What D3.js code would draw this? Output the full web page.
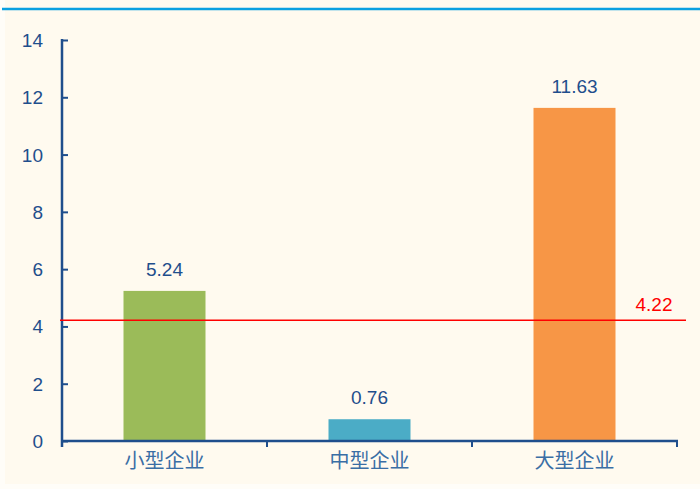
<!DOCTYPE html>
<html>
<head>
<meta charset="utf-8">
<script src="https://cdn.jsdelivr.net/npm/d3@7"></script>
<style>
  html, body { margin: 0; padding: 0; background: #fffdf8; }
  svg { display: block; }
</style>
</head>
<body>
<div id="container"></div>
<script>
// chart data
var categories = ["小型企业", "中型企业", "大型企业"];
var values = [5.24, 0.76, 11.63];
var colors = ["#9bbb59", "#4bacc6", "#f79646"];
var yTicks = [0, 2, 4, 6, 8, 10, 12, 14];
var average = 4.22;

(function(){
    var width = 700, height = 489;
    var margin = {left: 62, right: 23, top: 40, bottom: 48};

    var svg = d3.select("#container")
        .append("svg")
        .attr("width", width)
        .attr("height", height);

    // panel background + top rule
    svg.append("rect")
        .attr("x", 5).attr("y", 0)
        .attr("width", width - 5).attr("height", 484)
        .attr("fill", "#fffaef");
    svg.append("line")
        .attr("x1", 2).attr("x2", width)
        .attr("y1", 9).attr("y2", 9)
        .attr("stroke", "#0aa0e0")
        .attr("stroke-width", 2.5);

    var x = d3.scaleBand()
        .domain(categories)
        .range([margin.left, width - margin.right])
        .paddingInner(0.6)
        .paddingOuter(0.3);

    var y = d3.scaleLinear()
        .domain([0, 14])
        .range([height - margin.bottom, margin.top]);

    var axisColor = "#1f4e8c";
    var textColor = "#1f4e8c";
    var numFont = "Liberation Sans, Arial, sans-serif";

    // bars
    svg.selectAll(".bar")
        .data(values)
        .enter().append("rect")
        .attr("class", "bar")
        .attr("x", function(d, i){ return x(categories[i]); })
        .attr("y", function(d){ return y(d); })
        .attr("width", x.bandwidth())
        .attr("height", function(d){ return y(0) - y(d); })
        .attr("fill", function(d, i){ return colors[i]; });

    // value labels
    svg.selectAll(".val")
        .data(values)
        .enter().append("text")
        .attr("class", "val")
        .attr("x", function(d, i){ return x(categories[i]) + x.bandwidth() / 2; })
        .attr("y", function(d){ return y(d) - 15; })
        .attr("text-anchor", "middle")
        .attr("font-family", numFont)
        .attr("font-size", 19)
        .attr("fill", textColor)
        .text(function(d){ return d.toFixed(2); });

    // y axis
    var yAxis = d3.axisRight(y)
        .tickValues(yTicks)
        .tickSize(6)
        .tickFormat(function(){ return ""; });
    var gy = svg.append("g")
        .attr("transform", "translate(" + margin.left + ",0)")
        .call(yAxis);
    gy.select(".domain").remove();
    gy.selectAll(".tick line").attr("stroke", axisColor).attr("stroke-width", 2);
    gy.append("line")
        .attr("x1", 0).attr("x2", 0)
        .attr("y1", y(14) - 1).attr("y2", y(0) + 6)
        .attr("stroke", axisColor).attr("stroke-width", 2.5);

    svg.selectAll(".ylab")
        .data(yTicks)
        .enter().append("text")
        .attr("class", "ylab")
        .attr("x", 43)
        .attr("y", function(d){ return y(d) + 7; })
        .attr("text-anchor", "end")
        .attr("font-family", numFont)
        .attr("font-size", 19)
        .attr("fill", textColor)
        .text(function(d){ return d; });

    // x axis, with ticks on the category boundaries
    var xr = x.range();
    var bounds = d3.range(1, categories.length + 1).map(function(i){
        return xr[0] + i * (xr[1] - xr[0]) / categories.length;
    });
    svg.append("line")
        .attr("x1", xr[0]).attr("x2", xr[1] + 1)
        .attr("y1", y(0)).attr("y2", y(0))
        .attr("stroke", axisColor).attr("stroke-width", 2.5);
    svg.selectAll(".xtick")
        .data(bounds)
        .enter().append("line")
        .attr("class", "xtick")
        .attr("x1", function(d){ return d; })
        .attr("x2", function(d){ return d; })
        .attr("y1", y(0)).attr("y2", y(0) + 6)
        .attr("stroke", axisColor).attr("stroke-width", 2);

    svg.selectAll(".xlab")
        .data(categories)
        .enter().append("text")
        .attr("class", "xlab")
        .attr("x", function(d){ return x(d) + x.bandwidth() / 2; })
        .attr("y", y(0) + 27)
        .attr("text-anchor", "middle")
        .attr("font-family", "Noto Sans CJK SC, sans-serif")
        .attr("font-size", 20)
        .attr("fill", "#3a6ea5")
        .text(function(d){ return d; });

    // average line
    svg.append("line")
        .attr("x1", margin.left - 2).attr("x2", 686)
        .attr("y1", y(average)).attr("y2", y(average))
        .attr("stroke", "#ff0000").attr("stroke-width", 1.5);
    svg.append("text")
        .attr("x", 654)
        .attr("y", y(average) - 9)
        .attr("text-anchor", "middle")
        .attr("font-family", numFont)
        .attr("font-size", 19)
        .attr("fill", "#ff0000")
        .text(average.toFixed(2));
})();
</script>
</body>
</html>
